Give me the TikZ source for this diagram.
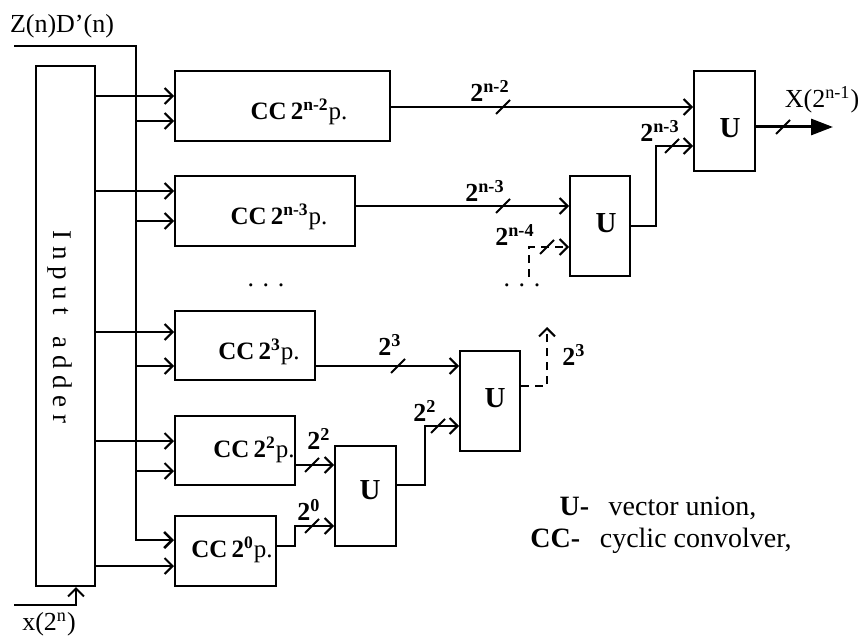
\documentclass[tikz,border=0pt]{standalone}
\usepackage{fontspec}
\setmainfont{Liberation Serif}
\usetikzlibrary{arrows.meta,fit}
\newcommand{\ccl}[1]{\textbf{CC\,2\textsuperscript{#1}}p.}
\newcommand{\bw}[1]{\textbf{2\textsuperscript{#1}}}
\tikzset{
  blk/.style={draw,inner sep=0pt},
  inp/.style={-{Straight Barb[length=4pt,width=8pt]}},
  txt/.style={font=\fontsize{13}{15}\selectfont},
  cctxt/.style={font=\fontsize{12.5}{14}\selectfont},
  utxt/.style={font=\fontsize{14.5}{17}\selectfont\bfseries},
  lgd/.style={font=\fontsize{14}{17}\selectfont},
  dsh/.style={dash pattern=on 4pt off 3pt}
}
\begin{document}
\begin{tikzpicture}[x=0.5pt,y=-0.5pt,line width=1pt]
\path[use as bounding box] (0,0) rectangle (861,636);
\node[blk,fit={(36,66) (95,586)}] (add) {};
\node[blk,fit={(175,71) (390,141)}] (cc1) {};
\node[blk,fit={(175,176) (355,246)}] (cc2) {};
\node[blk,fit={(175,311) (315,380)}] (cc3) {};
\node[blk,fit={(175,416) (295,485)}] (cc4) {};
\node[blk,fit={(175,516) (276,586)}] (cc5) {};
\node[blk,fit={(335,446) (396,546)}] (u1) {};
\node[blk,fit={(460,351) (520,451)}] (u2) {};
\node[blk,fit={(570,176) (630,276)}] (u3) {};
\node[blk,fit={(694,71) (755,171)}] (u4) {};
\node[rotate=-90,font=\fontsize{13.5}{16}\selectfont] (ladd) at (60,327) {I n p u t\hspace{0.8em}a d d e r};
\node[cctxt] (lcc1) at (299,112) {\ccl{n-2}};
\node[cctxt] (lcc2) at (279,217) {\ccl{n-3}};
\node[cctxt] (lcc3) at (259,352) {\ccl{3}};
\node[cctxt] (lcc4) at (254,450) {\ccl{2}};
\node[cctxt] (lcc5) at (232,550) {\ccl{0}};
\node[utxt] (lu1) at (370,490) {U};
\node[utxt] (lu2) at (495,398) {U};
\node[utxt] (lu3) at (606,223) {U};
\node[utxt] (lu4) at (730,128) {U};
\coordinate (zin) at (14,46);
\coordinate (bus) at (136,46);
\coordinate (xin) at (14,605);
\coordinate (xout) at (833,127);
\coordinate (u2out) at (547,327);
\coordinate (u3in) at (529,277);
\draw[inp,line width=1.3pt] (zin) -- (bus) -- (bus |- 0,540) -- (cc5.west |- 0,540);
\foreach \c/\y in {cc1/121,cc2/221,cc3/366,cc4/471}
  \draw[inp] (bus |- 0,\y) -- (\c.west |- 0,\y);
\foreach \c/\y in {cc1/96,cc2/191,cc3/332,cc4/441,cc5/566}
  \draw[inp] (add.east |- 0,\y) -- (\c.west |- 0,\y);
\draw[inp] (xin) -| (add.south -| 76,0);
\draw[inp] (cc1.east |- 0,107) -- (u4.west |- 0,107);
\draw[inp] (cc2.east |- 0,206) -- (u3.west |- 0,206);
\draw[inp] (cc3.east |- 0,366) -- (u2.west |- 0,366);
\draw[inp] (cc4.east |- 0,465) -- (u1.west |- 0,465);
\draw[inp] (cc5.east |- 0,546) -- ++(18,0) |- (u1.west |- 0,526);
\draw[inp] (u1.east |- 0,485) -- ++(28,0) |- (u2.west |- 0,426);
\draw[inp] (u3.east |- 0,226) -- ++(25,0) |- (u4.west |- 0,146);
\draw[inp,dsh] (u2.east |- 0,386) -| (u2out);
\draw[inp,dsh] (u3in) |- (u3.west |- 0,247);
\draw[line width=1.5pt,-{Triangle[length=11pt,width=8pt]}] (u4.east |- 0,127) -- (xout);
\foreach \sx/\sy in {503/107,503/206,672/146,547/247,783/127,398/366,438/426,312/465,312/526}
  \draw (\sx-7,\sy+7) -- (\sx+7,\sy-7);
\node[txt] (w1) at (490,91) {\bw{n-2}};
\node[txt] (w2) at (485,191) {\bw{n-3}};
\node[txt] (w3) at (660,131) {\bw{n-3}};
\node[txt] (w4) at (515,235) {\bw{n-4}};
\node[txt] (w5) at (390,345) {\bw{3}};
\node[txt] (w6) at (425,411) {\bw{2}};
\node[txt] (w7) at (319,439) {\bw{2}};
\node[txt] (w8) at (309,510) {\bw{0}};
\node[txt] (w9) at (574,355) {\bw{3}};
\node[txt] (dots1) at (266,285) {. . .};
\node[txt] (dots2) at (522,285) {. . .};
\node[txt] (lz) at (62,26) {Z(n)D’(n)};
\node[txt] (lx) at (49,624) {x(2\textsuperscript{n})};
\node[txt] (lX) at (822,100) {X(2\textsuperscript{n-1})};
\node[lgd] (key1) at (658,508) {\textbf{U-}\hspace{0.7em}vector union,};
\node[lgd] (key2) at (661,541) {\textbf{CC-}\hspace{0.7em}cyclic convolver,};
\end{tikzpicture}
\end{document}
